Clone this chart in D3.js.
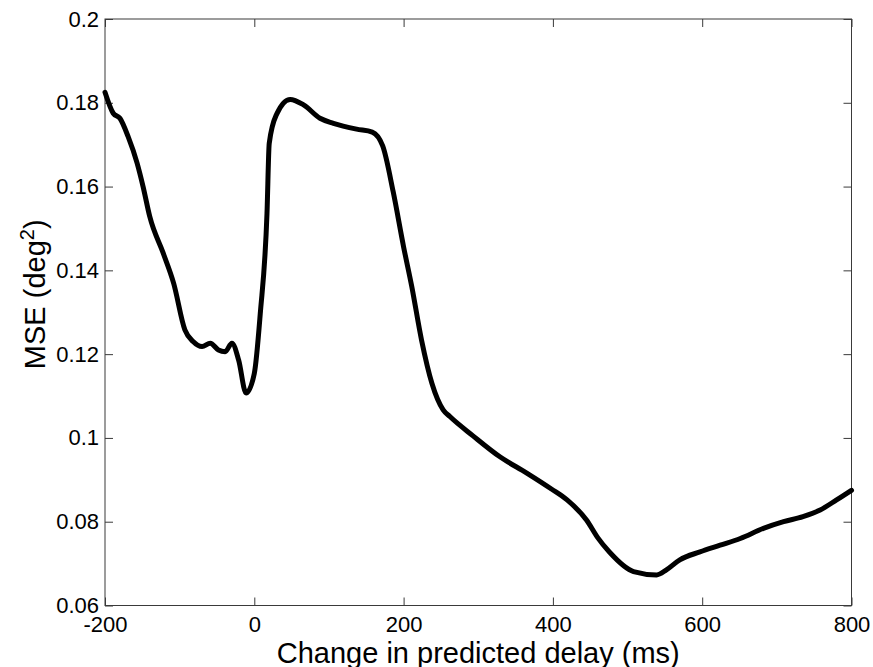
<!DOCTYPE html>
<html>
<head>
<meta charset="utf-8">
<script src="https://cdn.jsdelivr.net/npm/d3@7"></script>
<style>
    body { margin: 0; background: #fff; }
    svg { display: block; font-family: "Liberation Sans", Arial, sans-serif; }
</style>
</head>
<body>
<div id="chart"></div>
<script>
// values
const delays = [-200, -189, -180, -169, -157, -149, -140, -122, -108, -93, -82, -70, -59, -48, -39, -30, -21, -11, 0, 8, 17, 20, 30, 48, 66, 88, 106, 137, 158, 172, 186, 200, 211, 224, 238, 253, 262, 293, 329, 365, 398, 419, 445, 460, 476, 508, 539, 552, 570, 597, 624, 651, 682, 709, 735, 758, 780, 800];
const mse = [0.1825, 0.1775, 0.1763, 0.1719, 0.1656, 0.1600, 0.1528, 0.1441, 0.1369, 0.1258, 0.1230, 0.1218, 0.1226, 0.1210, 0.1206, 0.1226, 0.1186, 0.1107, 0.1154, 0.1297, 0.1536, 0.1703, 0.1773, 0.1808, 0.1795, 0.1763, 0.1751, 0.1737, 0.1730, 0.1697, 0.1588, 0.1456, 0.1361, 0.1234, 0.1130, 0.1067, 0.1051, 0.1005, 0.0955, 0.0916, 0.0878, 0.0852, 0.0804, 0.0762, 0.0727, 0.0681, 0.0673, 0.0685, 0.0709, 0.0728, 0.0744, 0.0760, 0.0784, 0.0800, 0.0812, 0.0828, 0.0852, 0.0875];
const xTicks = [-200, 0, 200, 400, 600, 800];
const xTickLabels = ["-200", "0", "200", "400", "600", "800"];
const yTicks = [0.06, 0.08, 0.1, 0.12, 0.14, 0.16, 0.18, 0.2];
const yTickLabels = ["0.06", "0.08", "0.1", "0.12", "0.14", "0.16", "0.18", "0.2"];

const W = 873, H = 667;
const margin = {top: 19, right: 21.5, bottom: 61.5, left: 105},
      width = W - margin.left - margin.right,
      height = H - margin.top - margin.bottom;

const svg = d3.select("#chart").append("svg")
              .attr("width", W)
              .attr("height", H);

const g = svg.append("g")
             .attr("transform", `translate(${margin.left},${margin.top})`);

const x = d3.scaleLinear().domain([-200, 800]).range([0, width]);
const y = d3.scaleLinear().domain([0.06, 0.2]).range([height, 0]);

const axisColor = "#3a3a3a";
const tickLen = 8;

// box
g.append("rect")
 .attr("x", 0).attr("y", 0)
 .attr("width", width).attr("height", height)
 .attr("fill", "none")
 .attr("stroke", axisColor)
 .attr("stroke-width", 1);

// inward ticks on all four sides (matlab box style)
const xAxisB = d3.axisBottom(x).tickValues(xTicks).tickSize(-tickLen).tickFormat((d, i) => xTickLabels[i]);
const xAxisT = d3.axisTop(x).tickValues(xTicks).tickSize(-tickLen).tickFormat("");
const yAxisL = d3.axisLeft(y).tickValues(yTicks).tickSize(-tickLen).tickPadding(6).tickFormat((d, i) => yTickLabels[i]);
const yAxisR = d3.axisRight(y).tickValues(yTicks).tickSize(-tickLen).tickFormat("");

function styleAxis(sel) {
    sel.select(".domain").remove();
    sel.selectAll(".tick line").attr("stroke", axisColor);
    sel.selectAll(".tick text")
       .attr("fill", "#000")
       .style("font-size", "22px")
       .style("font-family", "'Liberation Sans', Arial, sans-serif");
}

g.append("g").attr("transform", `translate(0,${height})`).call(xAxisB).call(styleAxis)
 .selectAll(".tick text").attr("y", 11).attr("dy", "0.71em");
g.append("g").call(xAxisT).call(styleAxis);
g.append("g").call(yAxisL).call(styleAxis);
g.append("g").attr("transform", `translate(${width},0)`).call(yAxisR).call(styleAxis);

// data line
const data = delays.map((d, i) => ({delay: d, mse: mse[i]}));
const line = d3.line()
               .x(d => x(d.delay))
               .y(d => y(d.mse))
               .curve(d3.curveMonotoneX);

g.append("path")
 .datum(data)
 .attr("fill", "none")
 .attr("stroke", "#000")
 .attr("stroke-width", 5)
 .attr("stroke-linejoin", "round")
 .attr("stroke-linecap", "round")
 .attr("d", line);

// axis labels
svg.append("text")
   .attr("x", margin.left + width / 2)
   .attr("y", 663)
   .attr("text-anchor", "middle")
   .style("font-size", "29px")
   .text("Change in predicted delay (ms)");

const yl = svg.append("text")
   .attr("transform", `translate(45,${margin.top + height / 2 - 18}) rotate(-90)`)
   .attr("text-anchor", "middle")
   .style("font-size", "29px");
yl.append("tspan").text("MSE (deg");
yl.append("tspan").attr("baseline-shift", "super").style("font-size", "20px").text("2");
yl.append("tspan").text(")");
</script>
</body>
</html>
